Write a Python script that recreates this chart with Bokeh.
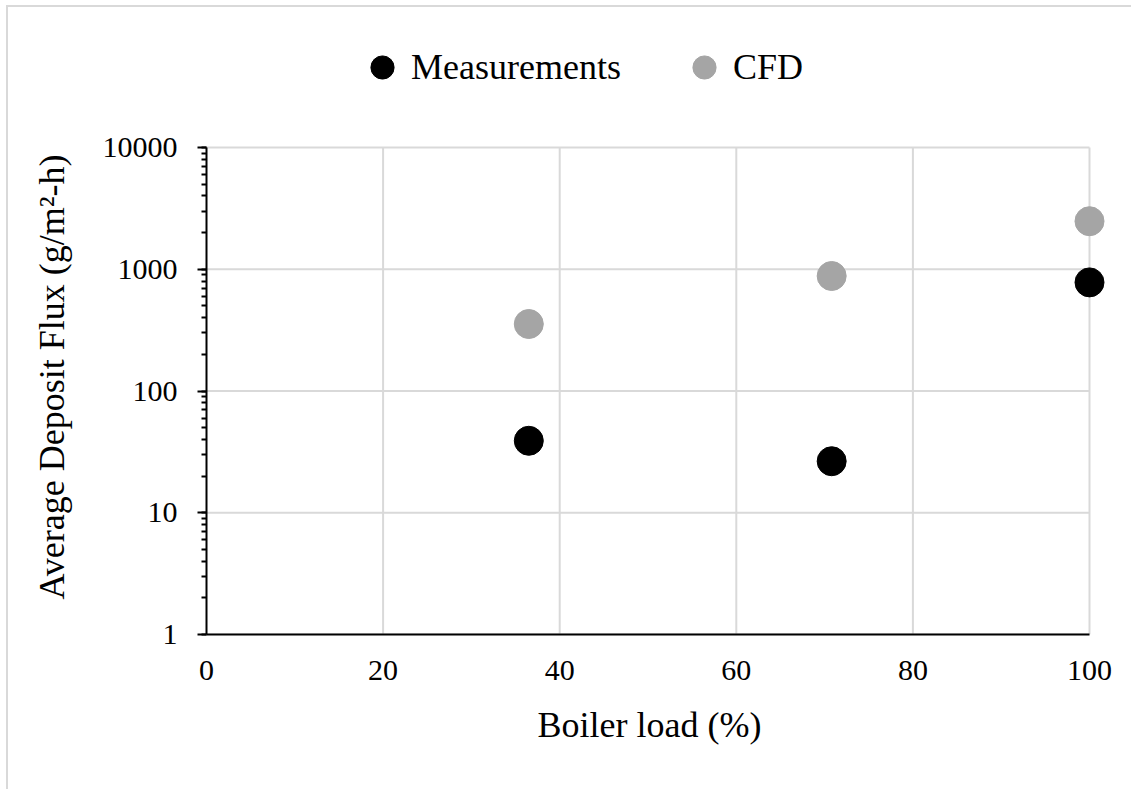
from bokeh.plotting import figure
from bokeh.models import Legend, LegendItem, NumeralTickFormatter, FixedTicker, Range1d, LogTicker
from bokeh.embed import file_html
from bokeh.resources import INLINE

# data
load_pct = [36.5, 70.8, 100]
measurements = [39, 26.5, 780]
cfd = [355, 880, 2480]
x_ticks = [0, 20, 40, 60, 80, 100]
y_ticks = [1, 10, 100, 1000, 10000]
series_names = ["Measurements", "CFD"]
x_title = "Boiler load (%)"
y_title = "Average Deposit Flux (g/m²-h)"

FONT = "Liberation Serif"
GRID = "#d9d9d9"
NBSP = "\u00a0"

# layout (pixels)
W, H = 1125, 784
AXIS_LEFT, AXIS_RIGHT_GAP = 198, 14
PLOT_TOP_GAP, BORDER_TOP, BORDER_BOTTOM = 127, 13, 157   # plot area starts 127px below frame top
plot_h = H - BORDER_TOP - BORDER_BOTTOM - PLOT_TOP_GAP
px_per_decade = plot_h / 4.0
y_top = 10 ** (4 + PLOT_TOP_GAP / px_per_decade)
px_per_unit = (W - AXIS_LEFT - 44) / 100.0
x_end = 100 + (44 - AXIS_RIGHT_GAP) / px_per_unit

p = figure(width=W, height=H, output_backend="svg", toolbar_location=None,
           y_axis_type="log",
           x_range=Range1d(0, x_end), y_range=Range1d(1, y_top),
           min_border_left=AXIS_LEFT, min_border_right=AXIS_RIGHT_GAP,
           min_border_top=BORDER_TOP, min_border_bottom=BORDER_BOTTOM)
p.styles = {"margin-left": "6px", "margin-top": "5px",
            "border-left": f"2px solid {GRID}", "border-top": f"2px solid {GRID}"}
p.outline_line_color = None
p.background_fill_color = "white"
p.border_fill_color = "white"

# gridlines limited to the plotting area
p.xgrid.visible = False
p.ygrid.visible = False
p.segment(x0=[x_ticks[0]] * len(y_ticks), x1=[x_ticks[-1]] * len(y_ticks),
          y0=y_ticks, y1=y_ticks, line_color=GRID, line_width=2)
p.segment(x0=x_ticks[1:], x1=x_ticks[1:], y0=[y_ticks[0]] * (len(x_ticks) - 1),
          y1=[y_ticks[-1]] * (len(x_ticks) - 1), line_color=GRID, line_width=2)

r1 = p.scatter(load_pct, measurements, size=29, color="black", marker="circle")
r2 = p.scatter(load_pct, cfd, size=29, color="#a5a5a5", marker="circle")

p.xaxis.ticker = FixedTicker(ticks=x_ticks)
p.xaxis.bounds = (x_ticks[0], x_ticks[-1])
p.yaxis.ticker = LogTicker(num_minor_ticks=10)
p.yaxis.bounds = (y_ticks[0], y_ticks[-1])
p.yaxis.formatter = NumeralTickFormatter(format="0")

for ax in (p.xaxis[0], p.yaxis[0]):
    ax.axis_line_color = "black"
    ax.axis_line_width = 2
    ax.major_label_text_font = FONT
    ax.major_label_text_font_size = "30px"
    ax.major_label_text_color = "black"
    ax.axis_label_text_font = FONT
    ax.axis_label_text_font_size = "36px"
    ax.axis_label_text_font_style = "normal"
    ax.axis_label_text_color = "black"

# trailing non-breaking spaces re-centre the titles on the plotting area
p.xaxis.axis_label = x_title + NBSP * 3
p.xaxis.major_tick_line_color = None
p.xaxis.minor_tick_line_color = None
p.xaxis.major_label_standoff = 20
p.xaxis.axis_label_standoff = 22

p.yaxis.axis_label = y_title + NBSP * 11
p.yaxis.major_tick_in = 0
p.yaxis.major_tick_out = 9
p.yaxis.minor_tick_in = 0
p.yaxis.minor_tick_out = 5
p.yaxis.major_tick_line_color = "black"
p.yaxis.minor_tick_line_color = "black"
p.yaxis.major_tick_line_width = 2
p.yaxis.minor_tick_line_width = 2
p.yaxis.major_label_standoff = 20
p.yaxis.axis_label_standoff = 28

legend = Legend(items=[LegendItem(label=series_names[0], renderers=[r1]),
                       LegendItem(label=series_names[1], renderers=[r2])],
                orientation="horizontal", location=(147, plot_h + 51),
                glyph_width=58, glyph_height=58, label_standoff=0, spacing=54,
                padding=0, margin=0, border_line_color=None, background_fill_alpha=0,
                label_text_font=FONT, label_text_font_size="36px", label_text_color="black")
p.add_layout(legend, "center")

open("out.html", "w").write(file_html(p, INLINE))
